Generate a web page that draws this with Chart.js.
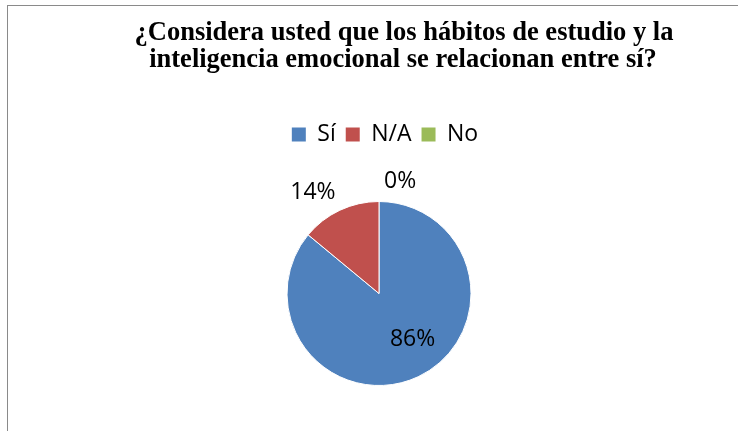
<!DOCTYPE html>
<html>
<head>
<meta charset="utf-8">
<script src="https://cdn.jsdelivr.net/npm/chart.js@4"></script>
<style>
  html, body { margin: 0; padding: 0; background: #fff; overflow: hidden; }
  #wrap { position: relative; width: 738px; height: 431px; }
  #frame { position: absolute; left: 7px; top: 5px; width: 900px; height: 600px; border: 1.5px solid #8a8a8a; box-sizing: border-box; }
  canvas { position: absolute; left: 0; top: 0; }
</style>
</head>
<body>
<div id="wrap">
  <div id="frame"></div>
  <canvas id="c" width="738" height="431"></canvas>
</div>
<script>
const titleLines = ['¿Considera usted que los hábitos de estudio y la', 'inteligencia emocional se relacionan entre sí?'];
const categories = ['Sí', 'N/A', 'No'];
const values = [86, 14, 0];
const pctLabels = ['86%', '14%', '0%'];
const colors = ['#4F81BD', '#C0504D', '#9BBB59'];

const titlePlugin = {
  id: 'serifTitle',
  afterLayout(chart) {
    if (chart.legend) { chart.legend.left += 6; chart.legend.right += 6; }
  },
  afterDraw(chart) {
    const ctx = chart.ctx;
    ctx.save();
    ctx.fillStyle = '#000';
    ctx.font = 'bold 26.5px "Liberation Serif", "Times New Roman", serif';
    ctx.textAlign = 'center';
    ctx.textBaseline = 'alphabetic';
    ctx.fillText(titleLines[0], 404, 40);
    ctx.fillText(titleLines[1], 403, 67);
    ctx.restore();
  }
};

const labelPlugin = {
  id: 'pctLabels',
  afterDatasetsDraw(chart) {
    const ctx = chart.ctx;
    const meta = chart.getDatasetMeta(0);
    ctx.save();
    ctx.fillStyle = '#000';
    ctx.font = '23px "Open Sans", "Liberation Sans", sans-serif';
    meta.data.forEach((arc, i) => {
      const p = arc.getProps(['x', 'y', 'startAngle', 'endAngle', 'outerRadius'], true);
      const mid = (p.startAngle + p.endAngle) / 2;
      if (i === 0) {
        const r = p.outerRadius * 0.55;
        ctx.textAlign = 'center';
        ctx.textBaseline = 'middle';
        ctx.fillText(pctLabels[i], p.x + Math.cos(mid) * r + 12, p.y + Math.sin(mid) * r);
      } else {
        const r = p.outerRadius + 10;
        const ax = p.x + Math.cos(mid) * r;
        const ay = p.y + Math.sin(mid) * r;
        const dx = Math.cos(mid);
        ctx.textBaseline = 'bottom';
        if (dx < -0.01) { ctx.textAlign = 'right'; ctx.fillText(pctLabels[i], ax, ay + 3); }
        else { ctx.textAlign = 'left'; ctx.fillText(pctLabels[i], ax + 5, ay + 1); }
      }
    });
    ctx.restore();
  }
};

new Chart(document.getElementById('c'), {
  type: 'pie',
  data: {
    labels: categories,
    datasets: [{
      data: values,
      backgroundColor: colors,
      borderColor: '#ffffff',
      borderWidth: 1,
      radius: 92
    }]
  },
  options: {
    responsive: false,
    animation: false,
    events: [],
    layout: { padding: { left: 20, right: 0, top: 113, bottom: -11 } },
    plugins: {
      title: { display: false },
      tooltip: { enabled: false },
      legend: {
        display: true,
        position: 'top',
        labels: {
          boxWidth: 14,
          boxHeight: 14,
          padding: 10,
          color: '#000',
          font: { size: 23, family: '"Open Sans", "Liberation Sans", sans-serif' },
          generateLabels(chart) {
            const items = Chart.controllers.pie.overrides.plugins.legend.labels.generateLabels(chart);
            items.forEach(it => { it.lineWidth = 0; it.strokeStyle = 'rgba(0,0,0,0)'; });
            return items;
          }
        }
      }
    }
  },
  plugins: [titlePlugin, labelPlugin]
});
</script>
</body>
</html>
